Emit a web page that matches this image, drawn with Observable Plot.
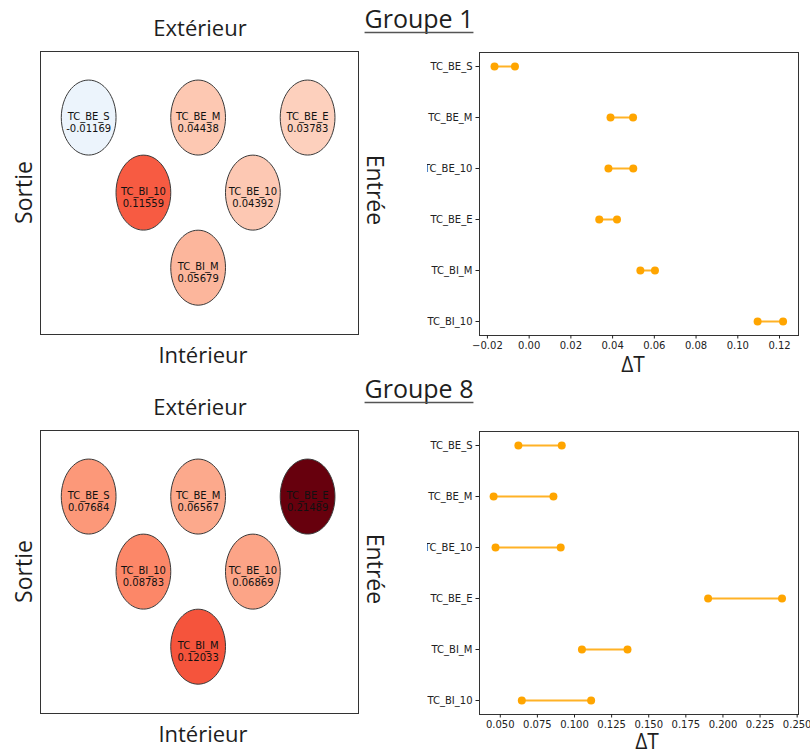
<!DOCTYPE html>
<html>
<head>
<meta charset="utf-8">
<script src="https://cdn.jsdelivr.net/npm/d3@7"></script>
<script src="https://cdn.jsdelivr.net/npm/@observablehq/plot@0.6"></script>
<style>
  body { margin: 0; background: #fff; }
  #fig { position: relative; width: 810px; height: 751px; overflow: hidden; background: #fff; }
  #fig > svg, #fig > figure { position: absolute; margin: 0; }
</style>
</head>
<body>
<div id="fig"></div>
<script>
// ---------- data ----------
const sensors = ["TC_BE_S", "TC_BE_M", "TC_BE_10", "TC_BE_E", "TC_BI_M", "TC_BI_10"];

const group1Low  = [-0.0166, 0.0390, 0.0380, 0.0336, 0.0533, 0.1095];
const group1High = [-0.0068, 0.0498, 0.0499, 0.0421, 0.0603, 0.1217];
const group1Mean = [-0.01169, 0.04438, 0.04392, 0.03783, 0.05679, 0.11559];

const group8Low  = [0.0622, 0.0455, 0.0468, 0.1900, 0.1050, 0.0645];
const group8High = [0.0914, 0.0858, 0.0907, 0.2398, 0.1357, 0.1112];
const group8Mean = [0.07684, 0.06567, 0.06869, 0.21489, 0.12033, 0.08783];

// schematic layout of the sensors (column, row)
const sensorCol = [1, 3, 4, 5, 3, 2];
const sensorRow = [1, 1, 2, 1, 3, 2];

const ticks1 = [-0.02, 0.00, 0.02, 0.04, 0.06, 0.08, 0.10, 0.12];
const ticks8 = [0.050, 0.075, 0.100, 0.125, 0.150, 0.175, 0.200, 0.225, 0.250];

const titles = ["Groupe 1", "Groupe 8"];
const sideLabels = { top: "Extérieur", bottom: "Intérieur", left: "Sortie", right: "Entrée" };
const xLabel = "ΔT";

// ---------- layout ----------
const groups = [
  { title: titles[0], low: group1Low, high: group1High, mean: group1Mean, dy: 0, tdy: 0,
    xDomain: [-0.0238, 0.1291], ticks: ticks1, fmt: ".2f", dtX: 633, dtY: 372 },
  { title: titles[1], low: group8Low, high: group8High, mean: group8Mean, dy: 379, tdy: 370,
    xDomain: [0.036, 0.2509], ticks: ticks8, fmt: ".3f", dtX: 647, dtY: 749 }
];

const cmax = d3.max([...group1Mean, ...group8Mean].map(Math.abs));
const colorInterp = t => t < 0.5 ? d3.interpolateBlues((0.5 - t) * 2) : d3.interpolateReds((t - 0.5) * 2);

// ellipse symbol (aspect ~0.73)
const ellipse = {
  draw(context, size) {
    const ry = Math.sqrt(size / Math.PI);
    const rx = ry * 0.73;
    const k = 0.5522847498;
    context.moveTo(rx, 0);
    context.bezierCurveTo(rx, k * ry, k * rx, ry, 0, ry);
    context.bezierCurveTo(-k * rx, ry, -rx, k * ry, -rx, 0);
    context.bezierCurveTo(-rx, -k * ry, -k * rx, -ry, 0, -ry);
    context.bezierCurveTo(k * rx, -ry, rx, -k * ry, rx, 0);
    context.closePath();
  }
};

const fig = document.getElementById("fig");

function place(el, left, top) {
  el.style.left = left + "px";
  el.style.top = top + "px";
  fig.appendChild(el);
}

for (const g of groups) {
  const schematic = sensors.map((name, i) => ({ name, col: sensorCol[i], row: sensorRow[i], value: g.mean[i] }));
  const ranges = sensors.map((name, i) => ({ name, low: g.low[i], high: g.high[i] }));

  const left = Plot.plot({
    width: 320, height: 285, margin: 1,
    style: { background: "white", fontFamily: "DejaVu Sans", fontSize: "10px", overflow: "visible" },
    x: { domain: [0.12, 5.93], axis: null },
    y: { domain: [0.12, 3.89], reverse: true, axis: null },
    color: { type: "linear", domain: [-cmax, cmax], interpolate: colorInterp },
    marks: [
      Plot.frame({ stroke: "#333", strokeWidth: 1 }),
      Plot.dot(schematic, { x: "col", y: "row", r: 37.5, symbol: ellipse, fill: "value", stroke: "#3a3a3a", strokeWidth: 1 }),
      Plot.text(schematic, { x: "col", y: "row", text: d => d.name + "\n" + d.value, dy: 4.5, lineHeight: 1.2,
        fontFamily: "DejaVu Sans", fontSize: 10, fill: "#111" })
    ]
  });
  place(left, 39, 50 + g.dy);

  const right = Plot.plot({
    width: 383, height: 317, marginLeft: 52, marginRight: 12, marginTop: 12, marginBottom: 22,
    style: { background: "white", fontFamily: "DejaVu Sans", fontSize: "10px", color: "#222" },
    x: { domain: g.xDomain },
    y: { type: "point", domain: sensors, padding: 0.25 },
    marks: [
      Plot.frame({ stroke: "#333", strokeWidth: 1 }),
      Plot.axisX({ ticks: g.ticks, tickFormat: g.fmt, tickSize: 3.5, tickPadding: 3, label: null }),
      Plot.axisY({ tickSize: 3.5, tickPadding: 3.5, label: null }),
      Plot.link(ranges, { x1: "low", x2: "high", y1: "name", y2: "name", stroke: "orange", strokeWidth: 2, strokeOpacity: 0.85 }),
      Plot.dot(ranges, { x: "low", y: "name", r: 4, fill: "orange" }),
      Plot.dot(ranges, { x: "high", y: "name", r: 4, fill: "orange" })
    ]
  });
  place(right, 427, 40 + g.dy);
}

// ---------- text overlay ----------
const ns = "http://www.w3.org/2000/svg";
const overlay = document.createElementNS(ns, "svg");
overlay.setAttribute("width", 810);
overlay.setAttribute("height", 751);
overlay.style.left = "0px"; overlay.style.top = "0px"; overlay.style.pointerEvents = "none";
fig.appendChild(overlay);

function addText(str, x, y, size, rotate, anchor = "middle") {
  const t = document.createElementNS(ns, "text");
  t.textContent = str;
  t.setAttribute("transform", `translate(${x},${y})` + (rotate ? ` rotate(${rotate})` : ""));
  t.setAttribute("text-anchor", anchor);
  t.setAttribute("font-family", "'Open Sans', 'Noto Sans', sans-serif");
  t.setAttribute("font-size", size);
  t.setAttribute("fill", "#1e1e1e");
  overlay.appendChild(t);
  return t;
}

for (const g of groups) {
  const tt = addText(g.title, 419, 28 + g.tdy, 25, 0);
  const w = tt.getComputedTextLength();
  const ln = document.createElementNS(ns, "line");
  ln.setAttribute("x1", 419 - w / 2); ln.setAttribute("x2", 419 + w / 2);
  ln.setAttribute("y1", 32.5 + g.tdy); ln.setAttribute("y2", 32.5 + g.tdy);
  ln.setAttribute("stroke", "#555"); ln.setAttribute("stroke-width", 1.5);
  overlay.appendChild(ln);

  addText(sideLabels.top, 200, 36 + g.dy, 22, 0);
  addText(sideLabels.bottom, 203, 363 + g.dy, 22, 0);
  addText(sideLabels.left, 32, 192.5 + g.dy, 23, -90);
  addText(sideLabels.right, 367, 190 + g.dy, 23, 90);
  addText(xLabel, g.dtX, g.dtY, 21, 0);
}
</script>
</body>
</html>
